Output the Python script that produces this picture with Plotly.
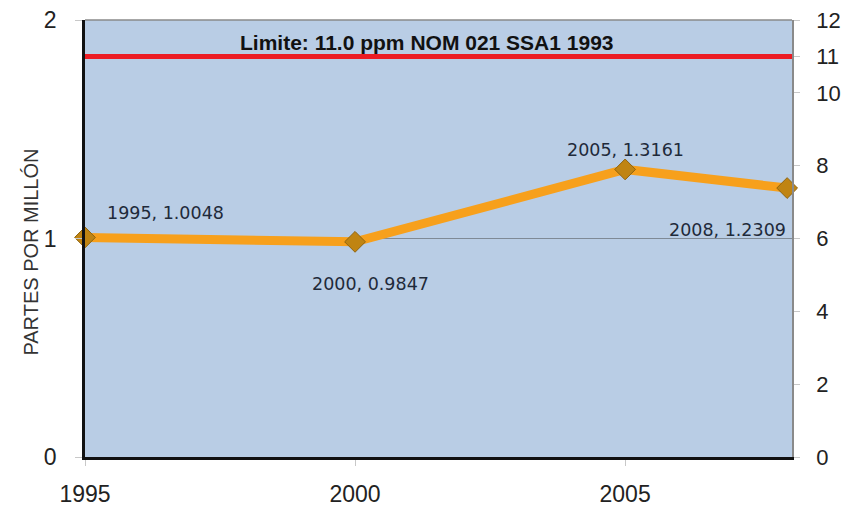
import plotly.graph_objects as go

years = [1995, 2000, 2005, 2008]
ppm = [1.0048, 0.9847, 1.3161, 1.2309]
label_text = ["1995, 1.0048", "2000, 0.9847", "2005, 1.3161", "2008, 1.2309"]
limit_value = 11
limit_label = "Limite: 11.0 ppm NOM 021 SSA1 1993"
x_ticks = [1995, 2000, 2005]
left_ticks = [0, 1, 2]
right_ticks = [0, 2, 4, 6, 8, 10, 11, 12]
y_title = "PARTES POR MILLÓN"

# label offsets (px) relative to each point
label_dx = [80, 15, 0, -60]
label_dy = [24, -42, 19, -42]

fig = go.Figure()
fig.add_trace(go.Scatter(
    x=years, y=ppm, mode="lines+markers",
    line=dict(color="#F7A01C", width=9),
    marker=dict(symbol="diamond", size=16, color="#C08412",
                line=dict(color="#8F6410", width=1)),
    cliponaxis=False, showlegend=False, hoverinfo="skip"))
# invisible trace to activate the right axis
fig.add_trace(go.Scatter(x=[years[0]], y=[0], yaxis="y2", mode="markers",
                         marker=dict(opacity=0), showlegend=False, hoverinfo="skip"))

fig.add_shape(type="line", xref="paper", x0=0, x1=1, yref="y2",
              y0=limit_value, y1=limit_value,
              line=dict(color="#EC1C24", width=5))
fig.add_shape(type="line", xref="paper", x0=0, x1=1, yref="paper", y0=1, y1=1,
              line=dict(color="#8a8a8a", width=1.5))

for x, y, t, dx, dy in zip(years, ppm, label_text, label_dx, label_dy):
    fig.add_annotation(x=x, y=y, xref="x", yref="y", text=t, showarrow=False,
                       xshift=dx, yshift=dy, xanchor="center", yanchor="middle",
                       font=dict(family="DejaVu Sans", size=17.5, color="#1f2a3a"))

fig.add_annotation(x=0.484, y=1 - 23 / 437, xref="paper", yref="paper",
                   text="<b>" + limit_label + "</b>", showarrow=False,
                   xanchor="center", yanchor="middle",
                   font=dict(family="Liberation Sans, Arial", size=21, color="#111111"))

fig.add_annotation(x=-0.0764, y=0.47, xref="paper", yref="paper", text=y_title,
                   textangle=-90, showarrow=False, xanchor="center", yanchor="middle",
                   font=dict(family="Liberation Sans, Arial", size=20, color="#333333"))

fig.update_layout(
    width=844, height=500,
    margin=dict(l=77, r=60, t=12, b=51, autoexpand=False),
    paper_bgcolor="white", plot_bgcolor="#B9CDE5",
    font=dict(family="Liberation Sans, Arial", size=22, color="#222222"),
    xaxis=dict(range=[1995, 2008.09], tickvals=x_ticks, showgrid=False,
               automargin=False, ticklabeloverflow="allow",
               showline=True, linecolor="#111111", linewidth=2.5,
               ticks="outside", ticklen=6, tickcolor="#c8c8c8",
               ticklabelstandoff=9, zeroline=False,
               tickfont=dict(size=23, color="#222222")),
    yaxis=dict(range=[0, 2], tickvals=left_ticks, showgrid=True,
               automargin=False, ticklabeloverflow="allow",
               gridcolor="#7f8a96", gridwidth=1,
               showline=True, linecolor="#111111", linewidth=2.5,
               ticks="outside", ticklen=7, tickcolor="#c8c8c8",
               ticklabelstandoff=14, zeroline=False,
               tickfont=dict(size=23, color="#222222")),
    yaxis2=dict(range=[0, 12], tickvals=right_ticks, overlaying="y", side="right",
                automargin=False, ticklabeloverflow="allow",
                showgrid=False, showline=True, linecolor="#8a8a8a", linewidth=1.5,
                ticks="outside", ticklen=6, tickcolor="#c8c8c8",
                ticklabelstandoff=12, zeroline=False,
                tickfont=dict(size=22, color="#222222")),
)

fig.write_html("out.html")
